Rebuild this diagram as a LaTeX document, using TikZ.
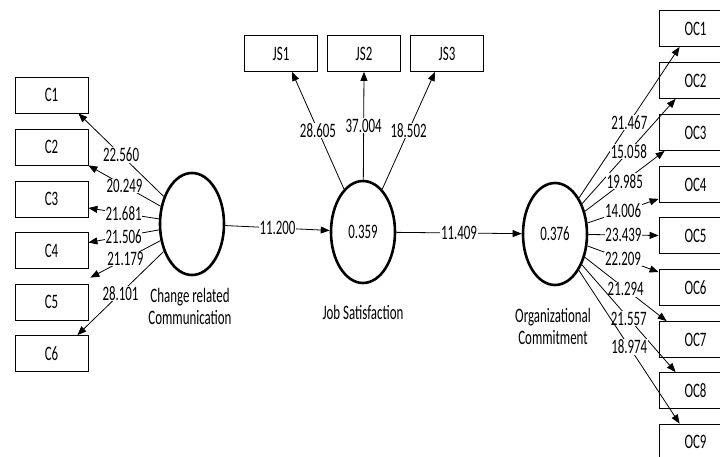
\documentclass[tikz,border=0pt]{standalone}
\usepackage{fontspec}
\setmainfont{Carlito}[FakeStretch=0.63]
\usetikzlibrary{shapes.geometric,arrows.meta}

\begin{document}
\begin{tikzpicture}[
    x=1pt, y=-1pt,
    every node/.style={font=\fontsize{20.5}{22}\selectfont},
    item/.style={rectangle, draw=black, line width=0.8pt, minimum width=73pt, minimum height=36pt, inner sep=0pt},
    construct/.style={ellipse, draw=black, line width=2.6pt, minimum width=64pt, minimum height=102pt, inner sep=0pt},
    load/.style={-{Triangle[length=9pt,width=7pt]}, line width=0.8pt},
    coef/.style={fill=white, inner sep=0.6pt}
]
\useasboundingbox (0,0) rectangle (720,457);
\clip (0,0) rectangle (720,457);

% latent variables
\node[construct] (crc) at (192,224) {};
\node[construct] (js) at (363,232) {0.359};
\node[construct] (oc) at (555,234) {0.376};

\node[align=center] (crclabel) at (190,306) {Change related\\Communication};
\node (jslabel) at (363,312) {Job Satisfaction};
\node[align=center] (oclabel) at (553,326) {Organizational\\Commitment};

% indicators
\node[item] (c1) at (51.5,95) {C1};
\node[item] (c2) at (51.5,147) {C2};
\node[item] (c3) at (51.5,199) {C3};
\node[item] (c4) at (51.5,250.5) {C4};
\node[item] (c5) at (51.5,302) {C5};
\node[item] (c6) at (51.5,353.5) {C6};

\node[item] (js1) at (281,53.5) {JS1};
\node[item] (js2) at (364,53.5) {JS2};
\node[item] (js3) at (447,53.5) {JS3};

\node[item] (oc1) at (695.5,28.5) {OC1};
\node[item] (oc2) at (695.5,80.5) {OC2};
\node[item] (oc3) at (695.5,132.5) {OC3};
\node[item] (oc4) at (695.5,184.5) {OC4};
\node[item] (oc5) at (695.5,235.5) {OC5};
\node[item] (oc6) at (695.5,287.5) {OC6};
\node[item] (oc7) at (695.5,339.5) {OC7};
\node[item] (oc8) at (695.5,390.5) {OC8};
\node[item] (oc9) at (695.5,442) {OC9};

% outer loadings
\draw[load] (crc) -- ([xshift=-10pt]c1.south east) node[coef, midway] {22.560};
\draw[load] (crc) -- (c2.south east) node[coef, midway] {20.249};
\draw[load] (crc) -- ([yshift=-9pt]c3.east) node[coef, midway] {21.681};
\draw[load] (crc) -- ([yshift=8pt]c4.east) node[coef, midway] {21.506};
\draw[load] (crc) -- ([xshift=2pt,yshift=6pt]c5.north east) node[coef, midway] {21.179};
\draw[load] (crc) -- ([xshift=-11pt]c6.north east) node[coef, midway] {28.101};

\draw[load] (js) -- ([xshift=11pt]js1.south) node[coef, midway] {28.605};
\draw[load] (js) -- (js2.south) node[coef, midway] {37.004};
\draw[load] (js) -- ([xshift=-12pt]js3.south) node[coef, midway] {18.502};

\draw[load] (oc) -- ([xshift=21pt]oc1.south west) node[coef, midway] {21.467};
\draw[load] (oc) -- ([xshift=17pt]oc2.south west) node[coef, midway] {15.058};
\draw[load] (oc) -- ([xshift=6pt]oc3.south west) node[coef, midway] {19.985};
\draw[load] (oc) -- ([yshift=4pt]oc4.south west) node[coef, midway] {14.006};
\draw[load] (oc) -- (oc5.west) node[coef, midway] {23.439};
\draw[load] (oc) -- ([yshift=-3pt]oc6.north west) node[coef, midway] {22.209};
\draw[load] (oc) -- ([xshift=8pt]oc7.north west) node[coef, midway] {21.294};
\draw[load] (oc) -- ([xshift=17pt]oc8.north west) node[coef, midway] {21.557};
\draw[load] (oc) -- ([xshift=21pt]oc9.north west) node[coef, midway] {18.974};

% path coefficients
\draw[load] (crc) -- (js) node[coef, midway] {11.200};
\draw[load] (js) -- (oc) node[coef, midway] {11.409};

\end{tikzpicture}
\end{document}
